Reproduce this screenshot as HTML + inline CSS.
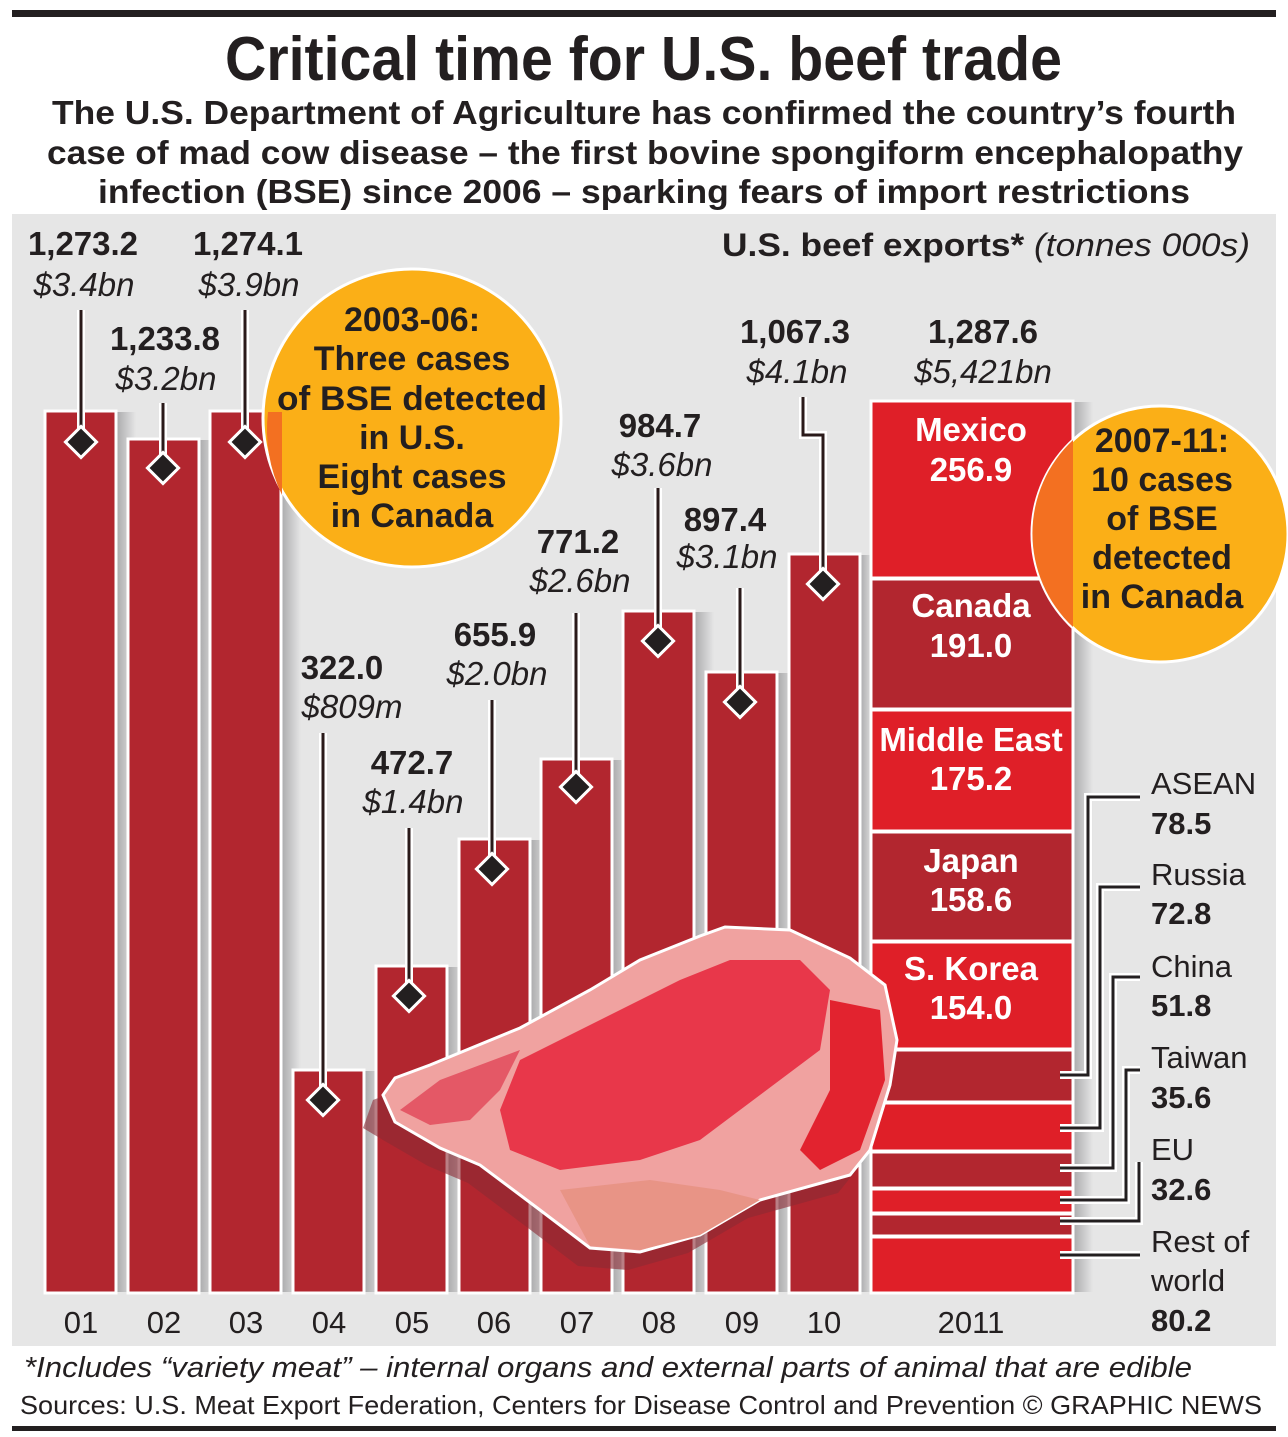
<!DOCTYPE html>
<html><head><meta charset="utf-8"><style>
html,body{margin:0;padding:0;background:#fff}
svg{display:block}
text{font-family:"Liberation Sans",sans-serif;fill:#231f20}
.b{font-weight:bold;font-size:33px}
.i{font-style:italic;font-size:33px}
.y{font-size:31px}
.w{fill:#fff;font-weight:bold;font-size:33px}
.c{font-weight:bold;font-size:34px;fill:#231f20}
</style></head><body>
<svg width="1288" height="1437" viewBox="0 0 1288 1437" xmlns="http://www.w3.org/2000/svg">
<defs>
<linearGradient id="sh" x1="0" x2="1" y1="0" y2="0"><stop offset="0" stop-color="#a9a9ab"/><stop offset="1" stop-color="#e6e6e6"/></linearGradient>
</defs>
<rect x="12" y="10" width="1264" height="7" fill="#231f20"/>
<text x="225" y="80" textLength="837" lengthAdjust="spacingAndGlyphs" style="font-weight:bold;font-size:62px">Critical time for U.S. beef trade</text>
<text x="52" y="124" textLength="1184" lengthAdjust="spacingAndGlyphs" style="font-weight:bold;font-size:33px">The U.S. Department of Agriculture has confirmed the country’s fourth</text>
<text x="47" y="164" textLength="1196" lengthAdjust="spacingAndGlyphs" style="font-weight:bold;font-size:33px">case of mad cow disease – the first bovine spongiform encephalopathy</text>
<text x="98" y="203" textLength="1092" lengthAdjust="spacingAndGlyphs" style="font-weight:bold;font-size:33px">infection (BSE) since 2006 – sparking fears of import restrictions</text>
<rect x="12" y="214" width="1264" height="1132" fill="#e6e6e6"/>
<text x="722" y="256" textLength="528" lengthAdjust="spacingAndGlyphs" style="font-size:32px"><tspan font-weight="bold">U.S. beef exports*</tspan><tspan font-style="italic"> (tonnes 000s)</tspan></text>

<g fill="url(#sh)">
<rect x="116" y="412" width="20" height="880"/><rect x="199" y="440" width="20" height="852"/><rect x="281" y="412" width="20" height="880"/>
<rect x="364" y="1071" width="20" height="221"/><rect x="447" y="967" width="20" height="325"/><rect x="530" y="840" width="20" height="452"/>
<rect x="612" y="760" width="20" height="532"/><rect x="694" y="612" width="20" height="680"/><rect x="777" y="673" width="20" height="619"/>
<rect x="860" y="555" width="14" height="737"/><rect x="1073" y="402" width="20" height="890"/>
</g>
<g fill="#b2262f" stroke="#fff" stroke-width="3">
<rect x="45" y="411" width="71" height="882"/><rect x="128" y="439" width="71" height="854"/><rect x="210" y="411" width="71" height="882"/>
<rect x="293" y="1070" width="71" height="223"/><rect x="376" y="966" width="71" height="327"/><rect x="459" y="839" width="71" height="454"/>
<rect x="541" y="759" width="71" height="534"/><rect x="623" y="611" width="71" height="682"/><rect x="706" y="672" width="71" height="621"/>
<rect x="789" y="554" width="71" height="739"/>
</g>
<g stroke="#fff" stroke-width="3">
<rect x="871" y="401" width="202" height="177" fill="#df1f28"/>
<rect x="871" y="579" width="202" height="130" fill="#b2262f"/>
<rect x="871" y="710" width="202" height="121" fill="#df1f28"/>
<rect x="871" y="832" width="202" height="109" fill="#b2262f"/>
<rect x="871" y="942" width="202" height="107" fill="#df1f28"/>
<rect x="871" y="1050" width="202" height="52" fill="#b2262f"/>
<rect x="871" y="1103" width="202" height="48" fill="#df1f28"/>
<rect x="871" y="1152" width="202" height="36" fill="#b2262f"/>
<rect x="871" y="1189" width="202" height="24" fill="#df1f28"/>
<rect x="871" y="1214" width="202" height="22" fill="#b2262f"/>
<rect x="871" y="1237" width="202" height="56" fill="#df1f28"/>
</g>
<g text-anchor="middle">
<text class="w" x="971" y="441">Mexico</text><text class="w" x="971" y="481">256.9</text>
<text class="w" x="971" y="617">Canada</text><text class="w" x="971" y="657">191.0</text>
<text class="w" x="971" y="751">Middle East</text><text class="w" x="971" y="790">175.2</text>
<text class="w" x="971" y="872">Japan</text><text class="w" x="971" y="911">158.6</text>
<text class="w" x="971" y="980">S. Korea</text><text class="w" x="971" y="1019">154.0</text>
</g>

<g fill="none" stroke-linejoin="miter">
<g stroke="#fff" stroke-width="8">
<path d="M1060 1075H1088V797H1140"/><path d="M1060 1128H1100V887H1140"/><path d="M1060 1168H1113V977H1140"/>
<path d="M1060 1200H1126V1070H1140"/><path d="M1060 1221H1139V1162"/><path d="M1060 1255H1140"/>
</g>
<g stroke="#231f20" stroke-width="3">
<path d="M1060 1075H1088V797H1140"/><path d="M1060 1128H1100V887H1140"/><path d="M1060 1168H1113V977H1140"/>
<path d="M1060 1200H1126V1070H1140"/><path d="M1060 1221H1139V1162"/><path d="M1060 1255H1140"/>
</g></g>
<text x="1151" y="794" class="y">ASEAN</text><text x="1151" y="834" class="b" style="font-size:31px">78.5</text>
<text x="1151" y="885" class="y">Russia</text><text x="1151" y="924" class="b" style="font-size:31px">72.8</text>
<text x="1151" y="977" class="y">China</text><text x="1151" y="1016" class="b" style="font-size:31px">51.8</text>
<text x="1151" y="1068" class="y">Taiwan</text><text x="1151" y="1108" class="b" style="font-size:31px">35.6</text>
<text x="1151" y="1160" class="y">EU</text><text x="1151" y="1200" class="b" style="font-size:31px">32.6</text>
<text x="1151" y="1252" class="y">Rest of</text><text x="1151" y="1291" class="y">world</text><text x="1151" y="1331" class="b" style="font-size:31px">80.2</text>

<!-- steak -->
<path d="M395 1122 L375 1110 L385 1082 L430 1065 L520 1028 L590 990 L640 960 L700 936 L725 927 L790 930 L850 958 L885 985 L897 1040 L890 1085 L870 1150 L850 1175 L760 1200 L700 1235 L640 1252 L590 1248 L540 1210 L480 1165 L440 1148 Z" fill="#8c2a33" opacity="0.6" transform="translate(-12 18)"/>
<path d="M395 1122 L383 1095 L395 1078 L430 1065 L520 1028 L590 990 L640 960 L700 936 L725 927 L790 930 L850 958 L885 985 L897 1040 L890 1085 L870 1150 L850 1175 L760 1200 L700 1235 L640 1252 L590 1248 L540 1210 L480 1165 L440 1148 Z" fill="#f0a2a0" stroke="#fff" stroke-width="3"/>
<path d="M500 1110 L520 1060 L600 1020 L680 980 L730 960 L800 960 L830 990 L820 1050 L780 1080 L740 1110 L700 1140 L640 1160 L560 1170 L510 1150 Z" fill="#e8374a"/>
<path d="M830 1000 L880 1010 L885 1080 L860 1150 L820 1170 L800 1150 L830 1090 Z" fill="#e2232f"/>
<path d="M400 1110 L440 1080 L520 1050 L500 1090 L470 1120 L430 1125 Z" fill="#e45866"/>
<path d="M560 1190 L650 1180 L720 1190 L760 1200 L700 1235 L640 1250 L590 1246 Z" fill="#e89486"/>

<circle cx="412" cy="418" r="149" fill="#fbaf17" stroke="#fff" stroke-width="3"/>
<path d="M268 412 H282 V495 A149 149 0 0 1 268 412 Z" fill="#f37021"/>
<g text-anchor="middle">
<text class="c" x="412" y="331">2003-06:</text>
<text class="c" x="412" y="370">Three cases</text>
<text class="c" x="412" y="410" textLength="270" lengthAdjust="spacingAndGlyphs">of BSE detected</text>
<text class="c" x="412" y="449">in U.S.</text>
<text class="c" x="412" y="488">Eight cases</text>
<text class="c" x="412" y="527">in Canada</text>
</g>
<circle cx="1160" cy="534" r="128" fill="#fbaf17" stroke="#fff" stroke-width="3"/>
<path d="M1073 440 V627 A128 128 0 0 1 1073 440 Z" fill="#f37021"/>
<g text-anchor="middle">
<text class="c" x="1162" y="452">2007-11:</text>
<text class="c" x="1162" y="491">10 cases</text>
<text class="c" x="1162" y="530">of BSE</text>
<text class="c" x="1162" y="569">detected</text>
<text class="c" x="1162" y="608">in Canada</text>
</g>

<g fill="none" stroke-linejoin="miter">
<g stroke="#fff" stroke-width="8">
<path d="M81 310V442"/><path d="M163 403V468"/><path d="M245 310V442"/><path d="M323 733V1100"/><path d="M409 828V996"/><path d="M492 700V869"/><path d="M576 613V787"/><path d="M658 488V641"/><path d="M740 588V702"/><path d="M803 397V435H823V584"/>
</g>
<g stroke="#2a1a1a" stroke-width="3">
<path d="M81 310V442"/><path d="M163 403V468"/><path d="M245 310V442"/><path d="M323 733V1100"/><path d="M409 828V996"/><path d="M492 700V869"/><path d="M576 613V787"/><path d="M658 488V641"/><path d="M740 588V702"/><path d="M803 397V435H823V584"/>
</g></g>
<g fill="#231f20" stroke="#fff" stroke-width="3">
<rect x="-11" y="-11" width="22" height="22" transform="translate(81 442) rotate(45)"/>
<rect x="-11" y="-11" width="22" height="22" transform="translate(163 468) rotate(45)"/>
<rect x="-11" y="-11" width="22" height="22" transform="translate(245 442) rotate(45)"/>
<rect x="-11" y="-11" width="22" height="22" transform="translate(323 1100) rotate(45)"/>
<rect x="-11" y="-11" width="22" height="22" transform="translate(409 996) rotate(45)"/>
<rect x="-11" y="-11" width="22" height="22" transform="translate(492 869) rotate(45)"/>
<rect x="-11" y="-11" width="22" height="22" transform="translate(576 787) rotate(45)"/>
<rect x="-11" y="-11" width="22" height="22" transform="translate(658 641) rotate(45)"/>
<rect x="-11" y="-11" width="22" height="22" transform="translate(740 702) rotate(45)"/>
<rect x="-11" y="-11" width="22" height="22" transform="translate(823 584) rotate(45)"/>
</g>

<g text-anchor="middle">
<text class="b" x="83" y="255">1,273.2</text><text class="i" x="84" y="296">$3.4bn</text>
<text class="b" x="165" y="350">1,233.8</text><text class="i" x="166" y="390">$3.2bn</text>
<text class="b" x="248" y="255">1,274.1</text><text class="i" x="249" y="296">$3.9bn</text>
<text class="b" x="342" y="679">322.0</text><text class="i" x="352" y="718">$809m</text>
<text class="b" x="412" y="774">472.7</text><text class="i" x="413" y="813">$1.4bn</text>
<text class="b" x="495" y="646">655.9</text><text class="i" x="497" y="685">$2.0bn</text>
<text class="b" x="578" y="553">771.2</text><text class="i" x="580" y="592">$2.6bn</text>
<text class="b" x="660" y="437">984.7</text><text class="i" x="662" y="476">$3.6bn</text>
<text class="b" x="725" y="531">897.4</text><text class="i" x="727" y="568">$3.1bn</text>
<text class="b" x="795" y="343">1,067.3</text><text class="i" x="797" y="383">$4.1bn</text>
<text class="b" x="983" y="343">1,287.6</text><text class="i" x="983" y="383">$5,421bn</text>
</g>
<g text-anchor="middle">
<text class="y" x="81" y="1333">01</text><text class="y" x="164" y="1333">02</text><text class="y" x="246" y="1333">03</text>
<text class="y" x="329" y="1333">04</text><text class="y" x="412" y="1333">05</text><text class="y" x="494" y="1333">06</text>
<text class="y" x="577" y="1333">07</text><text class="y" x="659" y="1333">08</text><text class="y" x="742" y="1333">09</text>
<text class="y" x="824" y="1333">10</text><text class="y" x="971" y="1333">2011</text>
</g>
<text x="24" y="1377" textLength="1168" lengthAdjust="spacingAndGlyphs" style="font-style:italic;font-size:29px">*Includes “variety meat” – internal organs and external parts of animal that are edible</text>
<text x="20" y="1414" textLength="1242" lengthAdjust="spacingAndGlyphs" style="font-size:26px">Sources: U.S. Meat Export Federation, Centers for Disease Control and Prevention © GRAPHIC NEWS</text>
<rect x="12" y="1426" width="1264" height="5" fill="#231f20"/>
</svg>
</body></html>
